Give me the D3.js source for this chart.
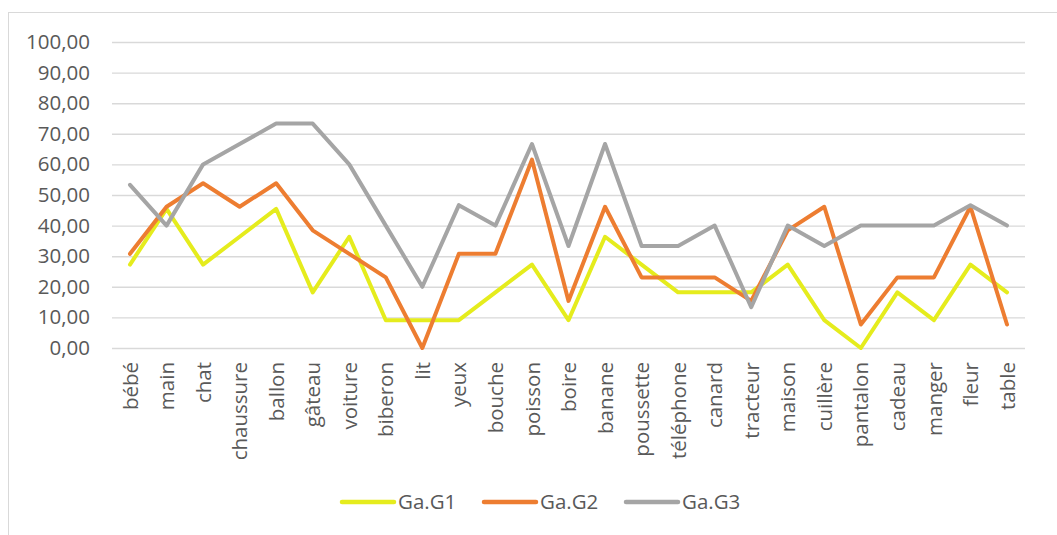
<!DOCTYPE html>
<html>
<head>
<meta charset="utf-8">
<script src="https://cdn.jsdelivr.net/npm/d3@7"></script>
<style>
  body { margin: 0; background: #fff; }
  svg text { font-family: "Open Sans", sans-serif; fill: #595959; }
</style>
</head>
<body>
<div id="main"></div>
<script>
var categories = ["bébé", "main", "chat", "chaussure", "ballon", "gâteau", "voiture", "biberon", "lit", "yeux",
  "bouche", "poisson", "boire", "banane", "poussette", "téléphone", "canard", "tracteur", "maison", "cuillère",
  "pantalon", "cadeau", "manger", "fleur", "table"];

var serie_g1 = [27.27, 45.45, 27.27, 36.36, 45.45, 18.18, 36.36, 9.09, 9.09, 9.09,
  18.18, 27.27, 9.09, 36.36, 27.27, 18.18, 18.18, 18.18, 27.27, 9.09,
  0, 18.18, 9.09, 27.27, 18.18];
var serie_g2 = [30.77, 46.15, 53.85, 46.15, 53.85, 38.46, 30.77, 23.08, 0, 30.77,
  30.77, 61.54, 15.38, 46.15, 23.08, 23.08, 23.08, 15.38, 38.46, 46.15,
  7.69, 23.08, 23.08, 46.15, 7.69];
var serie_g3 = [53.33, 40, 60, 66.67, 73.33, 73.33, 60, 40, 20, 46.67,
  40, 66.67, 33.33, 66.67, 33.33, 33.33, 40, 13.33, 40, 33.33,
  40, 40, 40, 46.67, 40];

var noms_series = ["Ga.G1", "Ga.G2", "Ga.G3"];
var couleurs = ["#e5ec1d", "#ed7d31", "#a5a5a5"];
var ticks_y = [0, 10, 20, 30, 40, 50, 60, 70, 80, 90, 100];

var width = 1057, height = 535;

function main () {
  const series = [serie_g1, serie_g2, serie_g3].map((valeurs, i) => ({
    nom: noms_series[i], couleur: couleurs[i],
    points: valeurs.map((v, j) => ({cat: categories[j], v: v}))
  }));

  const x = d3.scalePoint().domain(categories).range([130, 1007]);
  const y = d3.scaleLinear().domain([0, 100]).range([348, 42]);
  const fmt = d => d3.format(".2f")(d).replace(".", ",");

  const svg = d3.create("svg")
    .attr("width", width)
    .attr("height", height);

  // cadre
  svg.append("rect")
    .attr("x", 8.5).attr("y", 12.5)
    .attr("width", width).attr("height", height)
    .attr("fill", "none")
    .attr("stroke", "#d9d9d9");

  // grille + etiquettes y
  const axeY = svg.append("g")
    .call(d3.axisLeft(y).tickValues(ticks_y).tickSize(-913).tickFormat(fmt))
    .attr("transform", "translate(112,0)");
  axeY.select(".domain").remove();
  axeY.selectAll(".tick line").attr("stroke", "#d9d9d9").attr("stroke-width", 1.4);
  axeY.selectAll(".tick text")
    .attr("x", -22)
    .attr("font-size", 20.5)
    .attr("font-family", "Open Sans")
    .attr("fill", "#595959");

  // etiquettes x
  svg.append("g")
    .selectAll("text")
    .data(categories)
    .join("text")
      .attr("transform", d => `translate(${x(d)},362) rotate(-90)`)
      .attr("text-anchor", "end")
      .attr("dy", "0.37em")
      .attr("font-size", 20.5)
      .text(d => d);

  const line = d3.line()
    .x(d => x(d.cat))
    .y(d => y(d.v));

  svg.append("g")
    .selectAll("path")
    .data(series)
    .join("path")
      .attr("d", d => line(d.points))
      .attr("fill", "none")
      .attr("stroke", d => d.couleur)
      .attr("stroke-width", 4)
      .attr("stroke-linejoin", "round")
      .attr("stroke-linecap", "round");

  // legende
  const leg = svg.append("g")
    .selectAll("g")
    .data(series)
    .join("g")
      .attr("transform", (d, i) => `translate(${342 + i * 142},502)`);
  leg.append("line")
    .attr("x1", 0).attr("x2", 52)
    .attr("stroke", d => d.couleur)
    .attr("stroke-width", 4.5)
    .attr("stroke-linecap", "round");
  leg.append("text")
    .attr("x", 56)
    .attr("dy", "0.36em")
    .attr("font-size", 20.5)
    .text(d => d.nom);

  return svg.node();
}

document.getElementById("main").appendChild(main());
</script>
</body>
</html>
